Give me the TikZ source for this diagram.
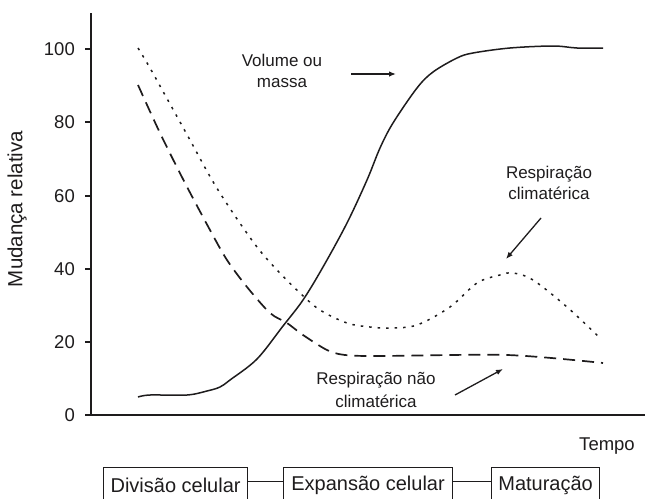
\documentclass[tikz,border=0pt]{standalone}
\usepackage{fontspec}
\setmainfont{Liberation Sans}
\usetikzlibrary{arrows.meta}
\definecolor{ink}{RGB}{30,28,29}
\begin{document}
\begin{tikzpicture}[x=1pt,y=-1pt,
  axisline/.style={draw=ink,line width=1.8pt},
  tickline/.style={draw=ink,line width=1.4pt},
  ticklab/.style={anchor=east,inner sep=0pt,text=ink,font=\fontsize{18.5}{21}\selectfont},
  lab/.style={align=center,inner sep=0pt,text=ink,font=\fontsize{17}{21}\selectfont},
  pointer/.style={draw=ink,line width=1.3pt,-{Latex[length=7pt,width=5.5pt]}},
  volcurve/.style={draw=ink,line width=1.5pt},
  climcurve/.style={draw=ink,line width=1.5pt,dash pattern=on 2.5pt off 6pt},
  noncurve/.style={draw=ink,line width=1.7pt,dash pattern=on 12pt off 7pt},
  phase/.style={draw=ink,line width=1.2pt,anchor=north west,minimum height=36pt,inner sep=0pt,text=ink,font=\fontsize{20}{23}\selectfont},
  link/.style={draw=ink,line width=1.2pt}]
\clip (0,0) rectangle (645,498);
\useasboundingbox (0,0) rectangle (645,498);
% axes
\coordinate (ytop) at (91,13);
\coordinate (orig) at (91,415);
\coordinate (xleft) at (85,415);
\coordinate (xright) at (645,415);
\draw[axisline] (ytop) -- (orig);
\draw[axisline] (xleft) -- (xright);
\foreach \v/\py in {100/49,80/122,60/196,40/269,20/342}{
  \coordinate (t\v a) at (85,\py);
  \coordinate (t\v b) at (91,\py);
  \draw[tickline] (t\v a) -- (t\v b);
  \node[ticklab] (l\v) at (75,\py) {\v};
}
\node[ticklab] (l0) at (75,415) {0};
\node[text=ink,font=\fontsize{20.5}{23}\selectfont,rotate=90,inner sep=0pt] (ylab) at (17,209) {Mudança relativa};
\node[text=ink,font=\fontsize{18.5}{21}\selectfont,inner sep=0pt] (tempo) at (607,446) {Tempo};
% curves
\draw[volcurve] plot[smooth,tension=0.55] coordinates {(138,397) (150,395) (187,395) (207,391) (220,387) (230,380) (257,359) (283,326) (303,300) (323,267) (347,223) (367,180) (380,148) (393,123) (417,88) (433,72) (457,58) (473,53) (510,48) (553,46) (577,48) (603,48)};
\draw[climcurve] plot[smooth,tension=0.55] coordinates {(138,48) (150,68) (170,104) (190,140) (212,180) (233,213) (257,247) (277,270) (300,293) (320,310) (347,323) (370,327) (390,328) (417,325) (450,307) (477,283) (500,275) (513,273) (533,280) (567,307) (600,338)};
\draw[noncurve] plot[smooth,tension=0.5] coordinates {(138,85) (160,133) (185,183) (210,230) (227,260) (247,287) (270,313) (287,323) (303,335) (327,350) (345,355) (380,356) (507,355) (603,363)};
% labels and pointers
\node[lab] (vol) at (282,71) {Volume ou\\massa};
\coordinate (volA) at (351,74);
\coordinate (volB) at (396,74);
\draw[pointer] (volA) -- (volB);
\node[lab] (clim) at (549,183) {Respiração\\climatérica};
\coordinate (climA) at (541,218);
\coordinate (climB) at (506,259);
\draw[pointer] (climA) -- (climB);
\node[lab] (non) at (376,390) {Respiração não\\[2pt]climatérica};
\coordinate (nonA) at (455,395);
\coordinate (nonB) at (503,369);
\draw[pointer] (nonA) -- (nonB);
% phase boxes
\node[phase,minimum width=144pt] (b1) at (103,467) {Divisão celular};
\node[phase,minimum width=169pt] (b2) at (283,467) {Expansão celular};
\node[phase,minimum width=108pt] (b3) at (491,467) {Maturação};
\draw[link] ([yshift=4pt]b1.east) -- ([yshift=4pt]b2.west);
\draw[link] ([yshift=4pt]b2.east) -- ([yshift=4pt]b3.west);
\end{tikzpicture}
\end{document}
